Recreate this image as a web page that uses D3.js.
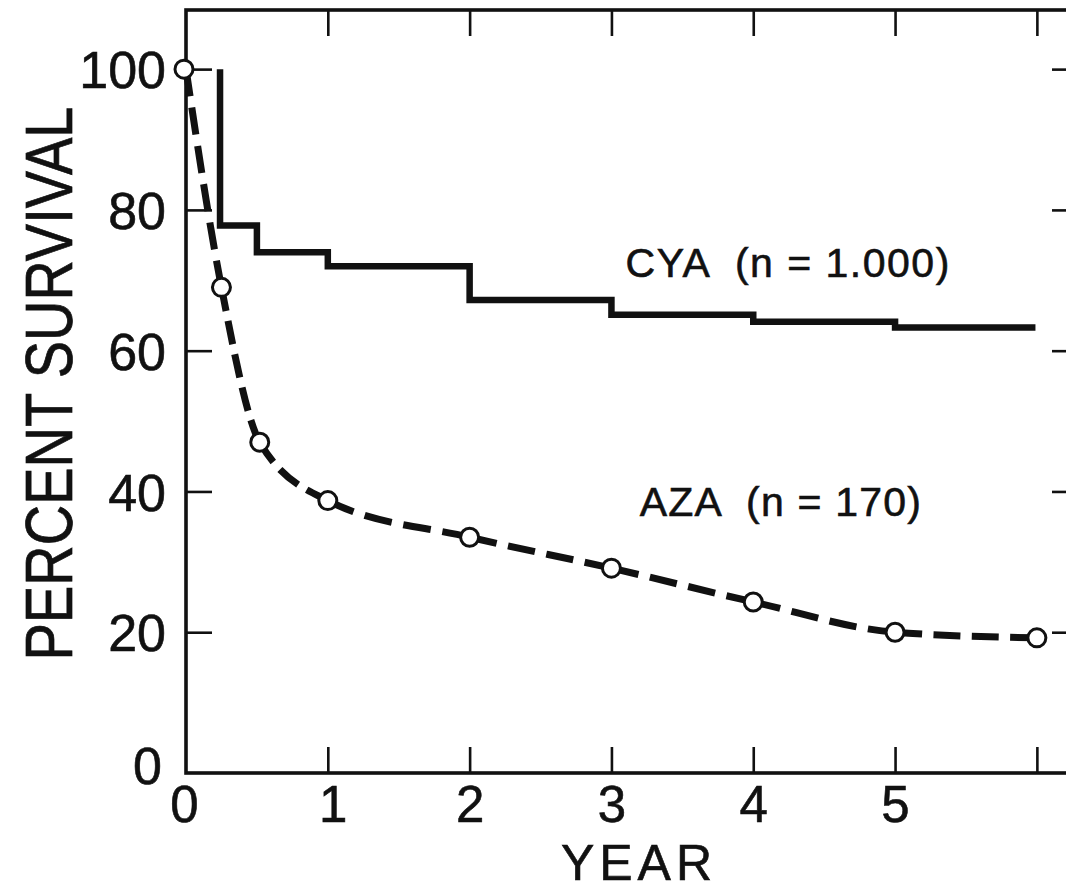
<!DOCTYPE html>
<html>
<head>
<meta charset="utf-8">
<script src="https://cdn.jsdelivr.net/npm/d3@7"></script>
<style>
  html, body { margin: 0; padding: 0; background: #fff; }
  svg { display: block; }
  text { font-family: "Liberation Sans", Arial, Helvetica, sans-serif; fill: #111; stroke: #111; stroke-width: 0.6px; }
</style>
</head>
<body>
<svg id="chart" width="1066" height="892"></svg>
<script>
// ---- Data ----
const xTickLabels = [0, 1, 2, 3, 4, 5];
const xTickMarks = [1, 2, 3, 4, 5, 6];
const yTickLabels = [0, 20, 40, 60, 80, 100];
const yTickMarks = [20, 40, 60, 80, 100];

// CYA Kaplan-Meier step curve (year, percent survival)
const cyaYears  = [0.24, 0.24, 0.5, 1.0, 2.0, 3.0, 4.0, 5.0, 5.99];
const cyaValues = [100, 77.8, 74.0, 72.0, 67.2, 65.1, 64.1, 63.3, 63.3];

// AZA curve with yearly markers
const azaYears  = [0, 0.25, 0.52, 1.0, 2.0, 3.0, 4.0, 5.0, 6.0];
const azaValues = [100, 69.0, 47.0, 38.7, 33.5, 29.1, 24.3, 20.0, 19.2];

const seriesLabels = [
  { text: "CYA  (n = 1.000)", year: 3.1, value: 72.6, spacing: 1.5 },
  { text: "AZA  (n = 170)", year: 3.2, value: 38.6, spacing: 1.2 }
];

(function () {
// ---- Layout ----
const svg = d3.select("#chart");
const mLeft = 186, mRight = 1078, mTop = 10, mBottom = 773;
const x = d3.scaleLinear().domain([0, 6.29]).range([mLeft, mRight]);
const y = d3.scaleLinear().domain([0, 108.4]).range([mBottom, mTop]);
const tickLen = 26;

// Frame
svg.append("rect")
  .attr("x", mLeft).attr("y", mTop)
  .attr("width", mRight - mLeft).attr("height", mBottom - mTop)
  .attr("fill", "none").attr("stroke", "#111").attr("stroke-width", 3.6);

function styleAxis(g) {
  g.select(".domain").remove();
  g.selectAll(".tick line").attr("stroke", "#111").attr("stroke-width", 2.6);
}

// Tick marks (inward)
svg.append("g").attr("transform", `translate(0,${mBottom})`)
  .call(d3.axisBottom(x).tickValues(xTickMarks).tickSize(-tickLen).tickFormat(""))
  .call(styleAxis);
svg.append("g").attr("transform", `translate(0,${mTop})`)
  .call(d3.axisTop(x).tickValues(xTickMarks).tickSize(-tickLen).tickFormat(""))
  .call(styleAxis);
svg.append("g").attr("transform", `translate(${mLeft},0)`)
  .call(d3.axisLeft(y).tickValues(yTickMarks).tickSize(-tickLen).tickFormat(""))
  .call(styleAxis);
svg.append("g").attr("transform", `translate(${mRight},0)`)
  .call(d3.axisRight(y).tickValues(yTickMarks).tickSize(-tickLen).tickFormat(""))
  .call(styleAxis);

const labelFont = "Liberation Sans, Arial, sans-serif";

// Tick labels
const xl = svg.append("g").attr("transform", `translate(0,${mBottom})`)
  .call(d3.axisBottom(x).tickValues(xTickLabels).tickSize(0).tickPadding(0).tickFormat(d3.format("d")));
xl.select(".domain").remove();
xl.selectAll("text")
  .attr("y", 49).attr("dy", null)
  .attr("dx", (d) => d === 0 ? -2 : (d === 1 ? 5 : 0))
  .style("font-size", "51px").style("font-family", labelFont).attr("fill", "#111");

const yl = svg.append("g").attr("transform", `translate(${mLeft},0)`)
  .call(d3.axisLeft(y).tickValues(yTickLabels).tickSize(0).tickPadding(0).tickFormat(d3.format("d")));
yl.select(".domain").remove();
yl.selectAll("text")
  .attr("x", -20).attr("dy", "0.36em")
  .style("font-size", "52px").style("font-family", labelFont).attr("fill", "#111");
yl.selectAll(".tick").filter(d => d === 0).select("text").attr("x", -24).attr("dy", "0.2em");

// Axis titles
svg.append("text")
  .attr("x", (mLeft + mRight) / 2 + 4).attr("y", 880)
  .attr("dx", 3)
  .attr("text-anchor", "middle")
  .style("font-size", "50px")
  .style("letter-spacing", "5px")
  .text("YEAR");
svg.append("text")
  .attr("transform", `translate(72,${(mTop + mBottom) / 2 - 8}) rotate(-90) scale(1,1.2)`)
  .attr("text-anchor", "middle")
  .style("font-size", "56px")
  .text("PERCENT SURVIVAL");

// CYA step line
const cyaPts = cyaYears.map((t, i) => [t, cyaValues[i]]);
svg.append("path")
  .datum(cyaPts)
  .attr("d", d3.line().x(d => x(d[0])).y(d => y(d[1])).curve(d3.curveStepAfter))
  .attr("fill", "none").attr("stroke", "#111").attr("stroke-width", 6.5)
  .attr("stroke-linejoin", "miter").attr("stroke-linecap", "butt");

// AZA dashed curve
const azaPts = azaYears.map((t, i) => [t, azaValues[i]]);
const azaPath = svg.append("path")
  .datum(azaPts)
  .attr("d", d3.line().x(d => x(d[0])).y(d => y(d[1])).curve(d3.curveMonotoneX))
  .attr("fill", "none").attr("stroke", "#111").attr("stroke-width", 7)
  .attr("stroke-linecap", "butt");

// Dash pattern so each segment begins and ends with a dash (solid near markers)
const node = azaPath.node();
const total = node.getTotalLength();
function lenAtX(px) {
  let lo = 0, hi = total;
  for (let k = 0; k < 40; k++) {
    const mid = (lo + hi) / 2;
    if (node.getPointAtLength(mid).x < px) lo = mid; else hi = mid;
  }
  return (lo + hi) / 2;
}
const marks = azaPts.map(d => lenAtX(x(d[0])));
marks[0] = 0; marks[marks.length - 1] = total;
const dash = 26, gap = 11;
const arr = [];
for (let i = 0; i < marks.length - 1; i++) {
  const L = marks[i + 1] - marks[i];
  const n = Math.max(1, Math.round((L + gap) / (dash + gap)));
  const s = L / (n * dash + (n - 1) * gap);
  for (let k = 0; k < n; k++) {
    arr.push(dash * s);
    if (k < n - 1) arr.push(gap * s);
  }
  if (i < marks.length - 2) arr.push(0);
}
arr.push(1000);
azaPath.attr("stroke-dasharray", arr.map(v => v.toFixed(2)).join(","));

// AZA markers
svg.append("g").selectAll("circle")
  .data(azaPts)
  .join("circle")
  .attr("cx", d => x(d[0]) - (d[0] === 0 ? 2 : 0))
  .attr("cy", d => y(d[1]))
  .attr("r", 9)
  .attr("fill", "#fff").attr("stroke", "#111").attr("stroke-width", 3);

// Series labels
svg.append("g").selectAll("text")
  .data(seriesLabels)
  .join("text")
  .attr("x", d => x(d.year))
  .attr("y", d => y(d.value))
  .attr("dy", "0.36em")
  .style("font-size", "41px")
  .style("letter-spacing", d => d.spacing + "px")
  .style("white-space", "pre")
  .text(d => d.text);
})();
</script>
</body>
</html>
